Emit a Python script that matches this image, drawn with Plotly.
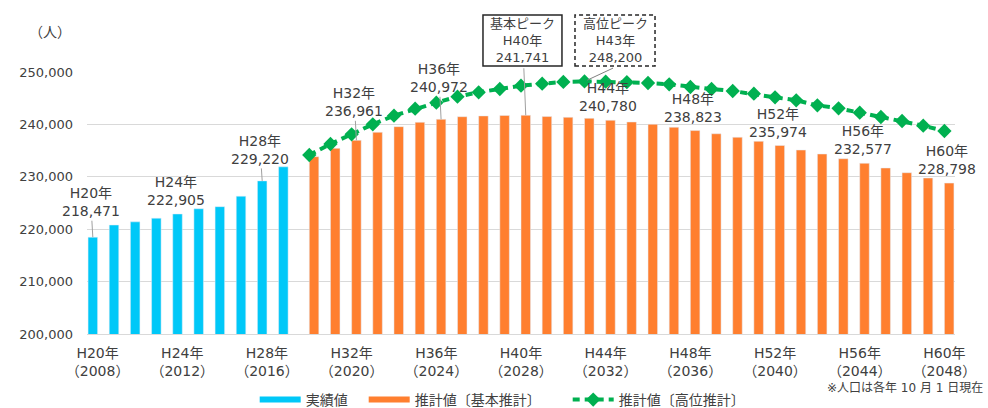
import plotly.graph_objects as go

# ---------------- data ----------------
start_year_h = 20          # H20 = 2008
start_year_ad = 2008
n_years = 41               # H20 .. H60

# 実績値 H20..H29
actual = [218471, 220800, 221400, 222100, 222905, 223900, 224300, 226300, 229220, 231900]
# 推計値〔基本推計〕 H30..H60
basic = [233840, 235430, 236961, 238490, 239570, 240400, 240972, 241470, 241620, 241700,
         241741, 241500, 241350, 241160, 240780, 240460, 240020, 239450, 238823, 238210,
         237540, 236770, 235974, 235110, 234350, 233450, 232577, 231680, 230780, 229770,
         228798]
# 推計値〔高位推計〕 H30..H60
high = [234160, 236260, 238110, 240020, 241660, 243000, 244150, 245290, 246130, 246760,
        247390, 247770, 248100, 248200, 248150, 248050, 247900, 247650, 247140, 246760,
        246370, 245860, 245170, 244600, 243640, 243070, 242230, 241410, 240650, 239750,
        238740]

tick_idx = list(range(0, 41, 4))
tick_text = [f"H{start_year_h + i}年<br>（{start_year_ad + i}）" for i in tick_idx]

# labelled points: (index, series)
labels_leader = [(0, "actual", -35), (8, "actual", -31), (12, "basic", -38), (16, "basic", -41)]
labels_plain = [(4, "actual"), (24, "basic"), (28, "basic"), (32, "basic"), (36, "basic"), (40, "basic")]
peak_basic_idx = 20
peak_high_idx = 23

# ---------------- styling ----------------
BLUE = "#00C8F8"
ORANGE = "#FF7F2F"
GREEN = "#00B050"
TXT = "#404040"
GRID = "#D9D9D9"
FONT = "DejaVu Sans, Noto Sans CJK JP, sans-serif"
bar_w = 0.45
slot = bar_w / 2

def pad(n, size=14):
    # invisible spacer for legend entry spacing
    return f'<span style="color:rgba(0,0,0,0);font-size:{size}px">{"_" * n}</span>'

x_actual = list(range(0, len(actual)))
x_proj = list(range(len(actual), len(actual) + len(basic)))

def val(i, series):
    if series == "actual":
        return actual[i]
    if series == "basic":
        return basic[i - len(actual)]
    return high[i - len(actual)]

def xpos(i, series):
    if series == "actual":
        return i - slot
    if series == "basic":
        return i + slot
    return i

fig = go.Figure()
fig.add_trace(go.Bar(x=x_actual, y=actual, marker_color=BLUE, name="実績値", showlegend=False,
                     width=bar_w, offset=-bar_w))
fig.add_trace(go.Bar(x=x_proj, y=basic, marker_color=ORANGE, name="推計値〔基本推計〕", showlegend=False,
                     width=bar_w, offset=0))
fig.add_trace(go.Scatter(x=x_proj, y=high, mode="lines+markers", name="推計値〔高位推計〕",
                         line=dict(color=GREEN, width=4, dash="7px,5px"),
                         marker=dict(symbol="diamond", size=11, color=GREEN),
                         legendrank=3))
# legend entries
fig.add_trace(go.Scatter(x=[None], y=[None], mode="lines", name="実績値" + pad(2, 10),
                         line=dict(color=BLUE, width=6), legendrank=1))
fig.add_trace(go.Scatter(x=[None], y=[None], mode="lines", name="推計値〔基本推計〕" + pad(3),
                         line=dict(color=ORANGE, width=6), legendrank=2))

annotations = []
for i, s, ay in labels_leader:
    v = val(i, s)
    annotations.append(dict(x=xpos(i, s), y=v, xref="x", yref="y",
                            text=f"H{start_year_h + i}年<br>{v:,}",
                            showarrow=True, arrowhead=0, arrowwidth=1, arrowcolor="#A0A0A0",
                            ax=-2, ay=ay, font=dict(size=14, color=TXT)))
for i, s in labels_plain:
    v = val(i, s)
    annotations.append(dict(x=xpos(i, s), y=v, xref="x", yref="y",
                            text=f"H{start_year_h + i}年<br>{v:,}",
                            showarrow=False, yanchor="middle", yshift=23, xshift=-2,
                            font=dict(size=14, color=TXT)))

# peak boxes
vb = val(peak_basic_idx, "basic")
annotations.append(dict(x=0.5017, y=1.1202, xref="paper", yref="paper",
                        xanchor="center", yanchor="middle",
                        text=f"基本ピーク<br>H{start_year_h + peak_basic_idx}年<br>{vb:,}",
                        showarrow=False, font=dict(size=13, color=TXT)))
annotations.append(dict(x=xpos(peak_basic_idx, "basic"), y=vb, xref="x", yref="y", text=" ",
                        showarrow=True, arrowhead=0, arrowwidth=1, arrowcolor="#A0A0A0",
                        ax=-2, ay=-49, font=dict(size=1)))
vh = val(peak_high_idx, "high")
annotations.append(dict(x=0.6083, y=1.1202, xref="paper", yref="paper",
                        xanchor="center", yanchor="middle",
                        text=f"高位ピーク<br>H{start_year_h + peak_high_idx}年<br>{vh:,}",
                        showarrow=False, font=dict(size=13, color=TXT)))
annotations.append(dict(x=xpos(peak_high_idx, "high"), y=vh, xref="x", yref="y", text=" ",
                        showarrow=True, arrowhead=0, arrowwidth=1, arrowcolor="#808080",
                        ax=30, ay=-14, standoff=3, font=dict(size=1)))

annotations.append(dict(x=-0.0426, y=1.1527, xref="paper", yref="paper", text="（人）",
                        xanchor="center", yanchor="middle",
                        showarrow=False, font=dict(size=14, color=TXT)))
annotations.append(dict(x=1.0346, y=-0.2023, xref="paper", yref="paper", xanchor="right",
                        yanchor="middle", text="※人口は各年 10 月 1 日現在",
                        showarrow=False, font=dict(size=12, color=TXT)))

shapes = [
    dict(type="rect", xref="paper", yref="paper", x0=0.4562, x1=0.5472, y0=1.0229, y1=1.2176,
         line=dict(color="#262626", width=1.5)),
    dict(type="rect", xref="paper", yref="paper", x0=0.5622, x1=0.6544, y0=1.0229, y1=1.2176,
         line=dict(color="#262626", width=1.5, dash="4px,3px")),
]

fig.update_layout(
    width=988, height=408,
    margin=dict(l=87, r=33, t=72, b=74, autoexpand=False),
    paper_bgcolor="white", plot_bgcolor="white",
    font=dict(family=FONT, size=14, color=TXT),
    barmode="overlay",
    annotations=annotations, shapes=shapes,
    legend=dict(orientation="h", x=0.1932, xanchor="left", y=-0.252, yanchor="middle",
                font=dict(size=14, color=TXT), traceorder="normal", itemwidth=41),
    xaxis=dict(range=[-0.5, n_years - 0.5], tickmode="array", tickvals=tick_idx, ticktext=tick_text,
               showgrid=False, showline=True, linecolor=GRID, linewidth=1, ticks="",
               zeroline=False, tickfont=dict(family=FONT, size=14, color=TXT), ticklabelstandoff=6),
    yaxis=dict(range=[200000, 250000], dtick=10000, tickformat=",d", showgrid=True,
               gridcolor=GRID, gridwidth=1, zeroline=False, ticks="",
               ticklabelstandoff=13, tickfont=dict(family=FONT, size=13, color=TXT)),
)

fig.write_html("out.html", config={"displayModeBar": False},
               post_script="document.body.style.margin='0';document.body.style.padding='0';")
